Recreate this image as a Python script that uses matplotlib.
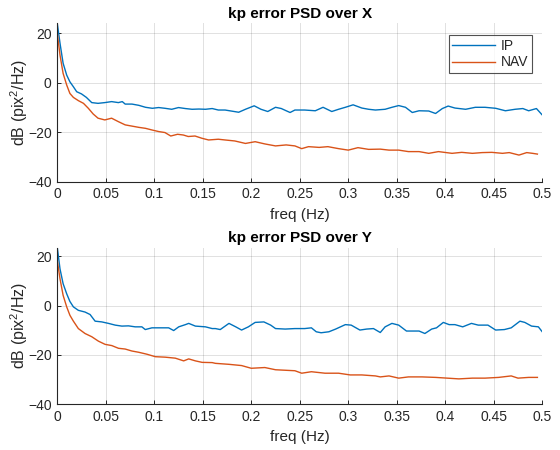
import matplotlib
matplotlib.use("Agg")
import matplotlib.pyplot as plt

plt.rcParams['font.family'] = ['Liberation Sans', 'DejaVu Sans']
plt.rcParams['mathtext.fontset'] = 'custom'
plt.rcParams['mathtext.rm'] = 'Liberation Sans'
plt.rcParams['mathtext.it'] = 'Liberation Sans'

# ---- Data ----
# Top: PSD over X
x_ip_f = [0.0, 0.0028, 0.006, 0.0097, 0.013, 0.0166, 0.02, 0.025, 0.030, 0.0355, 0.042, 0.049, 0.056, 0.063,
          0.067, 0.070, 0.077, 0.084, 0.091, 0.098, 0.1045, 0.111, 0.118, 0.125, 0.132, 0.139, 0.146, 0.1528,
          0.1597, 0.166, 0.173, 0.187, 0.194, 0.203, 0.210, 0.217, 0.225, 0.231, 0.236, 0.240, 0.245, 0.255,
          0.266, 0.274, 0.283, 0.290, 0.297, 0.305, 0.314, 0.321, 0.328, 0.338, 0.345, 0.352, 0.359, 0.366,
          0.373, 0.383, 0.390, 0.397, 0.403, 0.410, 0.421, 0.431, 0.441, 0.452, 0.462, 0.472, 0.480, 0.486,
          0.494, 0.500]
x_ip_db = [24.0, 16.0, 7.9, 3.1, 0.4, -1.6, -3.6, -4.5, -5.9, -8.0, -8.3, -8.0, -7.6, -8.0,
           -7.6, -8.6, -8.6, -9.1, -9.9, -10.3, -10.0, -10.3, -10.7, -10.0, -10.4, -10.7, -10.6, -10.7,
           -10.4, -11.0, -11.0, -11.9, -10.7, -9.3, -10.7, -11.6, -9.9, -10.4, -11.3, -12.0, -11.0, -11.0,
           -11.3, -9.9, -11.6, -10.7, -9.9, -8.9, -10.2, -10.7, -11.0, -10.7, -9.9, -9.2, -9.9, -12.0,
           -11.3, -11.4, -12.4, -10.4, -9.4, -10.2, -10.7, -9.9, -9.9, -10.3, -11.3, -10.7, -10.4, -11.3,
           -10.4, -13.0]
x_nav_f = [0.0, 0.0028, 0.006, 0.0097, 0.013, 0.0166, 0.0217, 0.027, 0.032, 0.037, 0.042, 0.049, 0.056,
           0.063, 0.070, 0.077, 0.084, 0.091, 0.098, 0.1045, 0.111, 0.117, 0.124, 0.130, 0.135, 0.142, 0.149,
           0.156, 0.166, 0.173, 0.183, 0.194, 0.204, 0.214, 0.225, 0.236, 0.245, 0.252, 0.259, 0.270, 0.279,
           0.290, 0.300, 0.310, 0.321, 0.333, 0.342, 0.352, 0.362, 0.373, 0.383, 0.393, 0.407, 0.417, 0.428,
           0.438, 0.448, 0.459, 0.466, 0.476, 0.484, 0.490, 0.495]
x_nav_db = [20.0, 11.2, 3.8, -0.9, -4.3, -5.9, -7.2, -8.3, -10.3, -12.6, -14.3, -15.0, -14.3,
            -15.7, -17.0, -17.5, -18.0, -18.4, -19.1, -19.7, -20.1, -21.5, -20.8, -21.1, -21.7, -21.5, -22.4,
            -23.1, -22.8, -23.1, -23.5, -24.5, -23.8, -24.7, -25.5, -25.1, -25.5, -26.6, -25.8, -26.1, -25.8,
            -26.6, -27.2, -26.2, -26.9, -26.8, -27.2, -27.2, -27.8, -27.8, -28.5, -27.8, -28.5, -28.1, -28.5,
            -28.2, -28.1, -28.5, -28.2, -29.2, -28.2, -28.5, -28.8]

# Bottom: PSD over Y
y_ip_f = [0.0, 0.0028, 0.006, 0.0097, 0.013, 0.0166, 0.0217, 0.0286, 0.0338, 0.039, 0.0459, 0.0528, 0.0597,
          0.0666, 0.0734, 0.0803, 0.0872, 0.0907, 0.0976, 0.1079, 0.1148, 0.1200, 0.1252, 0.1321, 0.1355,
          0.1424, 0.1528, 0.1597, 0.163, 0.168, 0.177, 0.184, 0.190, 0.197, 0.204, 0.213, 0.220, 0.225,
          0.235, 0.245, 0.255, 0.262, 0.267, 0.272, 0.280, 0.287, 0.297, 0.303, 0.312, 0.319, 0.326, 0.333,
          0.338, 0.345, 0.352, 0.360, 0.373, 0.379, 0.386, 0.391, 0.398, 0.404, 0.410, 0.418, 0.427, 0.434,
          0.444, 0.452, 0.461, 0.468, 0.477, 0.482, 0.489, 0.496, 0.500]
y_ip_db = [23.6, 14.9, 8.9, 4.8, 1.7, -0.5, -1.9, -2.6, -3.6, -6.3, -6.6, -7.2, -7.9,
           -8.3, -8.2, -8.6, -8.6, -9.7, -9.0, -9.0, -9.0, -10.1, -8.6, -7.7, -7.2,
           -8.3, -8.6, -9.3, -9.3, -9.7, -7.2, -8.6, -9.9, -8.6, -6.8, -6.6, -7.9, -9.3,
           -9.5, -9.3, -9.3, -9.0, -10.6, -11.0, -10.6, -9.5, -7.7, -7.9, -9.9, -9.5, -9.3, -10.9,
           -8.6, -7.2, -7.9, -10.3, -10.3, -11.3, -9.5, -9.0, -6.8, -7.7, -7.7, -8.6, -7.2, -7.9,
           -7.9, -9.9, -9.7, -9.0, -6.3, -6.8, -8.3, -8.6, -10.6]
y_nav_f = [0.0, 0.0028, 0.006, 0.0097, 0.013, 0.0166, 0.0217, 0.0286, 0.0355, 0.0424, 0.0493, 0.0562,
           0.0631, 0.070, 0.0769, 0.0838, 0.0924, 0.1010, 0.1114, 0.1217, 0.1303, 0.1355, 0.1424, 0.1493,
           0.1597, 0.163, 0.177, 0.190, 0.200, 0.214, 0.225, 0.235, 0.245, 0.252, 0.262, 0.276, 0.290, 0.302,
           0.314, 0.328, 0.333, 0.342, 0.352, 0.362, 0.376, 0.390, 0.402, 0.414, 0.428, 0.441, 0.455, 0.468,
           0.475, 0.486, 0.495]
y_nav_db = [18.3, 10.9, 4.2, -0.5, -3.9, -6.3, -9.3, -11.3, -12.6, -14.4, -15.7, -16.2,
            -17.3, -17.6, -18.4, -18.9, -19.7, -20.7, -20.9, -21.3, -22.4, -21.6, -22.4, -23.0,
            -23.1, -23.4, -23.8, -24.3, -25.4, -25.1, -26.0, -26.2, -26.4, -27.4, -26.8, -27.4, -27.4, -28.1,
            -28.1, -28.5, -28.9, -28.5, -29.4, -28.9, -28.9, -29.1, -29.4, -29.7, -29.4, -29.4, -29.1, -28.5,
            -29.4, -29.1, -29.1]

titles = ["kp error PSD over X", "kp error PSD over Y"]
series_names = ["IP", "NAV"]
xticks = [0, 0.05, 0.1, 0.15, 0.2, 0.25, 0.3, 0.35, 0.4, 0.45, 0.5]
xticklabels = ["0", "0.05", "0.1", "0.15", "0.2", "0.25", "0.3", "0.35", "0.4", "0.45", "0.5"]
yticks = [-40, -20, 0, 20]

BLUE = "#0072BD"
RED = "#D95319"
DARK = "#262626"

fig = plt.figure(figsize=(5.6, 4.5), dpi=100)
ax1 = fig.add_axes([0.1023, 0.596, 0.866, 0.352])
ax2 = fig.add_axes([0.1023, 0.1016, 0.866, 0.3480])

data = [(ax1, x_ip_f, x_ip_db, x_nav_f, x_nav_db, 24.0),
        (ax2, y_ip_f, y_ip_db, y_nav_f, y_nav_db, 23.5)]

for i, (ax, f1, d1, f2, d2, ytop) in enumerate(data):
    ax.plot(f1, d1, color=BLUE, lw=1.0, label=series_names[0])
    ax.plot(f2, d2, color=RED, lw=1.0, label=series_names[1])
    ax.set_xlim(0, 0.5)
    ax.set_ylim(-40, ytop)
    ax.set_xticks(xticks)
    ax.set_xticklabels(xticklabels)
    ax.set_yticks(yticks)
    ax.grid(True, color="#000000", alpha=0.12, lw=0.7)
    ax.set_axisbelow(True)
    for s in ["top", "right"]:
        ax.spines[s].set_visible(False)
    for s in ["left", "bottom"]:
        ax.spines[s].set_color(DARK)
        ax.spines[s].set_linewidth(0.8)
    ax.tick_params(direction="in", length=3, width=0.7, colors=DARK, labelsize=10, pad=4)
    ax.set_title(titles[i], fontsize=11, fontweight="bold", color="#000000", pad=4)
    ax.set_xlabel("freq (Hz)", fontsize=11, color=DARK, labelpad=4.5)
    ax.set_ylabel("dB (pix$^{2}$/Hz)", fontsize=11.5, color=DARK)
    ax.yaxis.set_label_coords(-0.056, 0.5)

leg = ax1.legend(loc="upper right", bbox_to_anchor=(0.978, 0.926), fontsize=10,
                 frameon=True, fancybox=False, handlelength=3.1, borderpad=0.25,
                 labelspacing=0.2, handletextpad=0.4, borderaxespad=0.0)
leg.get_frame().set_edgecolor(DARK)
leg.get_frame().set_linewidth(0.8)
for t in leg.get_texts():
    t.set_color(DARK)

fig.savefig("out.png", dpi=100)
